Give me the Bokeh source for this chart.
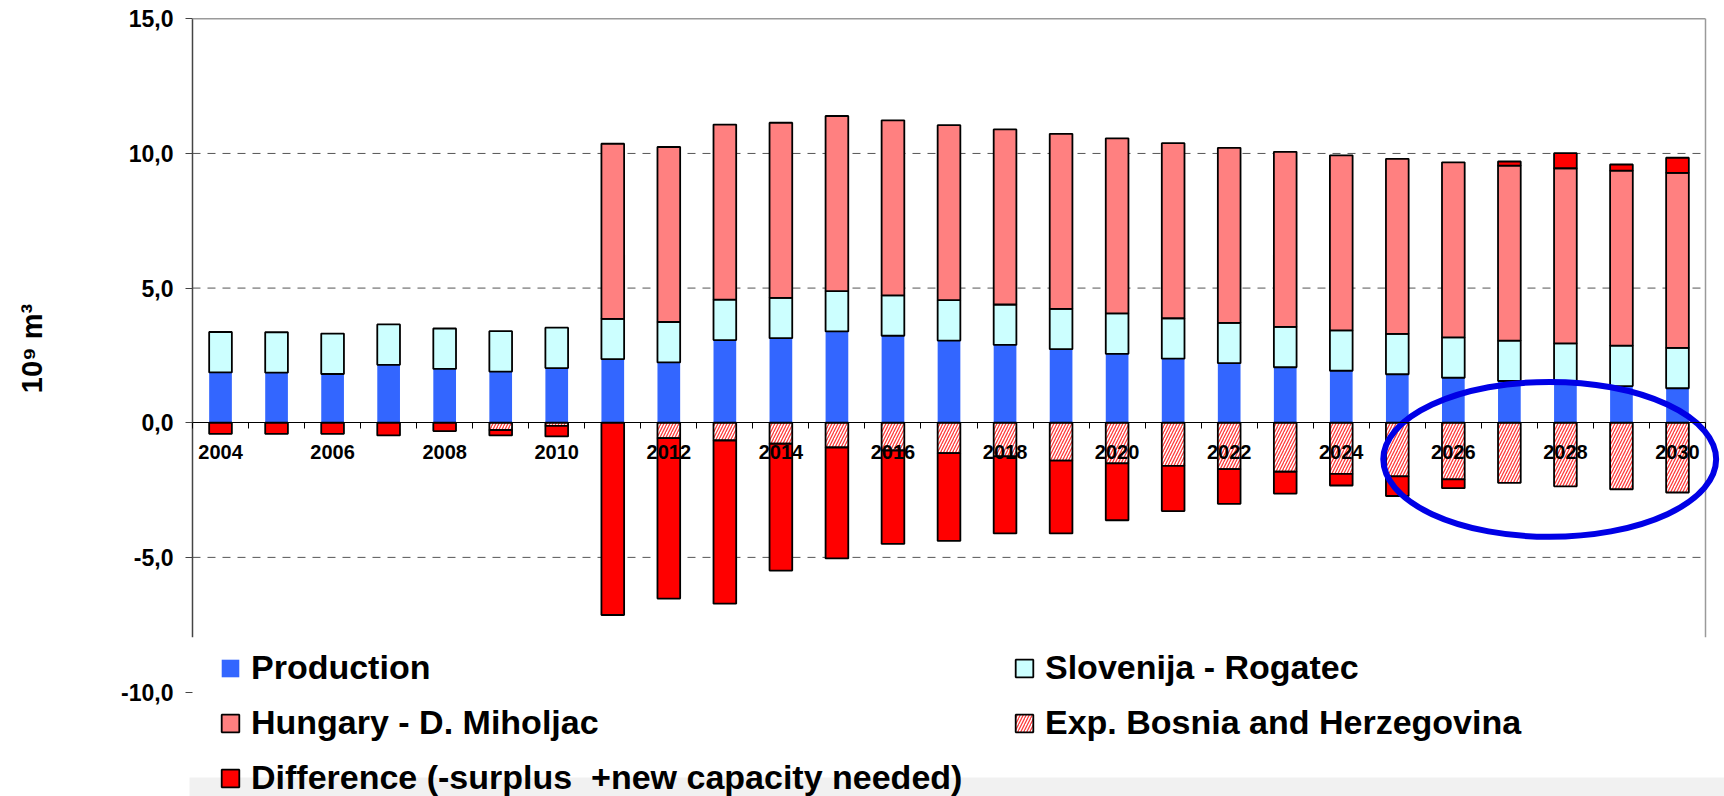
import numpy as np
from bokeh.plotting import figure
from bokeh.models import (Range1d, LinearAxis, FixedTicker, Legend, LegendItem, BoxAnnotation)
from bokeh.embed import file_html
from bokeh.resources import INLINE

# ---------------- data (10^9 m3) ----------------
YEARS = list(range(2004, 2031))
PRODUCTION = [1.87, 1.86, 1.81, 2.15, 2.00, 1.90, 2.03,
              2.36, 2.24, 3.07, 3.14, 3.39, 3.23, 3.05, 2.89, 2.73,
              2.56, 2.38, 2.21, 2.06, 1.93, 1.80, 1.67, 1.55, 1.45, 1.36, 1.28]
SLOVENIJA = [1.50, 1.50, 1.50, 1.50, 1.50, 1.50, 1.50,
             1.50, 1.50, 1.50, 1.50, 1.50, 1.50, 1.50, 1.50, 1.50,
             1.50, 1.50, 1.50, 1.50, 1.50, 1.50, 1.50, 1.50, 1.50, 1.50, 1.50]
HUNGARY = [0.0, 0.0, 0.0, 0.0, 0.0, 0.0, 0.0,
           6.50, 6.50, 6.50, 6.50, 6.50, 6.50, 6.50, 6.50, 6.50,
           6.50, 6.50, 6.50, 6.50, 6.50, 6.50, 6.50, 6.50, 6.50, 6.50, 6.50]
BOSNIA = [0.0, 0.0, 0.0, 0.0, 0.0, -0.27, -0.12,
          0.0, -0.57, -0.66, -0.78, -0.92, -1.03, -1.13, -1.25, -1.41,
          -1.51, -1.60, -1.72, -1.82, -1.90, -1.99, -2.10, -2.23, -2.36, -2.47, -2.59]
DIFFERENCE = [-0.41, -0.41, -0.41, -0.47, -0.31, -0.20, -0.39,
              -7.14, -5.96, -6.06, -4.71, -4.12, -3.47, -3.26, -2.86, -2.70,
              -2.11, -1.68, -1.29, -0.81, -0.43, -0.73, -0.33, 0.15, 0.56, 0.23, 0.56]
Y_TICKS = [-10, -5, 0, 5, 10, 15]
GRID_TICKS = [-5, 5, 10]
X_LABEL_YEARS = YEARS[::2]

Y_TITLE = "10⁹ m³"
LABELS = ["Production", "Slovenija - Rogatec", "Hungary - D. Miholjac",
          "Exp. Bosnia and Herzegovina", "Difference (-surplus  +new capacity needed)"]

# highlight ellipse (data units)
ELLIPSE_X, ELLIPSE_Y, ELLIPSE_W, ELLIPSE_H = 2027.72, -1.36, 5.94, 5.76
# plot-area border stops where the legend area begins
Y_TOP, BORDER_BOTTOM = 15, -7.97

# ---------------- stacks ----------------
x = np.array(YEARS, dtype=float)
prod = np.array(PRODUCTION)
slo = np.array(SLOVENIJA)
hun = np.array(HUNGARY)
bos = np.array(BOSNIA)
dif = np.array(DIFFERENCE)

s_top = prod + slo
h_top = s_top + hun
d_bottom = np.where(dif >= 0, h_top, bos + dif)
d_top = np.where(dif >= 0, h_top + dif, bos)

FONT = "Liberation Sans"
BAR_W = 0.405
X_LO, X_HI = YEARS[0] - 0.5, YEARS[-1] + 0.5
PAD_L, PAD_R = 0.0535, 0.339  # room left of the border; right room for the ellipse

p = figure(width=1724, height=796,
           x_range=Range1d(X_LO - PAD_L, X_HI + PAD_R),
           y_range=Range1d(-13.879, 15.085),
           x_axis_type=None, output_backend="svg", toolbar_location=None,
           min_border_left=189, min_border_right=0, min_border_top=16, min_border_bottom=0,
           outline_line_color=None,
           background_fill_color="white", border_fill_color="white")

# dashed gridlines, limited to the plot area
p.segment(x0=[X_LO] * len(GRID_TICKS), y0=GRID_TICKS, x1=[X_HI] * len(GRID_TICKS), y1=GRID_TICKS,
          line_color="#555555", line_width=1, line_dash="8 7")

# plot-area border (left axis line, top and right frame)
p.segment(x0=[X_LO], y0=[Y_TOP], x1=[X_LO], y1=[BORDER_BOTTOM], line_color="#444444", line_width=1.5)
p.segment(x0=[X_LO], y0=[Y_TOP], x1=[X_HI], y1=[Y_TOP], line_color="#9a9a9a", line_width=1.5)
p.segment(x0=[X_HI], y0=[Y_TOP], x1=[X_HI], y1=[BORDER_BOTTOM], line_color="#9a9a9a", line_width=1.5)

OUT = dict(line_color="black", line_width=1.8)
r_prod = p.vbar(x=x, bottom=0, top=prod, width=BAR_W, fill_color="#3366FF", line_color=None)
r_slo = p.vbar(x=x, bottom=prod, top=s_top, width=BAR_W, fill_color="#CCFFFF", **OUT)
hmask = hun > 0
r_hun = p.vbar(x=x[hmask], bottom=s_top[hmask], top=h_top[hmask], width=BAR_W,
               fill_color="#FF8080", **OUT)
bmask = bos < 0
r_bos = p.vbar(x=x[bmask], bottom=bos[bmask], top=0, width=BAR_W, fill_color="white",
               hatch_pattern="/", hatch_color="#ff3b3b", hatch_scale=6, hatch_weight=1.3, **OUT)
r_dif = p.vbar(x=x, bottom=d_bottom, top=d_top, width=BAR_W, fill_color="#FF0000", **OUT)

p.ellipse(x=[ELLIPSE_X], y=[ELLIPSE_Y], width=[ELLIPSE_W], height=[ELLIPSE_H],
          fill_color=None, line_color="#0000e6", line_width=6)

# y axis
yax = p.yaxis[0]
yax.ticker = FixedTicker(ticks=Y_TICKS)
yax.major_label_overrides = {t: f"{t:.1f}".replace(".", ",") for t in Y_TICKS}
yax.major_label_text_font = FONT
yax.major_label_text_font_style = "bold"
yax.major_label_text_font_size = "23px"
yax.major_label_text_color = "black"
yax.major_label_standoff = 12
yax.major_tick_out = 4
yax.major_tick_in = 3
yax.minor_tick_line_color = None
yax.major_tick_line_color = "#444444"
yax.axis_line_color = None
# leading em spaces lift the (centred) title to where the reference shows it
yax.axis_label = "\u2003\u2003\u2003\u2003" + Y_TITLE
yax.axis_label_text_font = FONT
yax.axis_label_text_font_style = "bold"
yax.axis_label_text_font_size = "29px"
yax.axis_label_text_color = "black"
yax.axis_label_standoff = 70

p.ygrid.visible = False

# x axis crossing at zero: tick marks between categories, labels every other year
bounds = [yv - 0.5 for yv in YEARS] + [X_HI]
tick_axis = LinearAxis(ticker=FixedTicker(ticks=bounds), fixed_location=0, bounds=(X_LO, X_HI),
                       axis_line_color="black", axis_line_width=1.2,
                       major_tick_line_color="black", major_tick_out=6, major_tick_in=0,
                       minor_tick_line_color=None, major_label_text_color=None)
label_axis = LinearAxis(ticker=FixedTicker(ticks=X_LABEL_YEARS), fixed_location=0,
                        axis_line_color=None, major_tick_line_color=None,
                        minor_tick_line_color=None, major_tick_out=0, major_tick_in=0,
                        major_label_standoff=22, major_label_text_font=FONT,
                        major_label_text_font_style="bold", major_label_text_font_size="20px",
                        major_label_text_color="black")
p.add_layout(tick_axis, "below")
p.add_layout(label_axis, "below")

# light shading at the very bottom of the page
p.add_layout(BoxAnnotation(top=777, bottom=796, left=0, right=1724,
                           top_units="canvas", bottom_units="canvas",
                           left_units="canvas", right_units="canvas",
                           fill_color="#f1f1f1", fill_alpha=1.0, line_color=None, level="annotation"))

common = dict(label_text_font=FONT, label_text_font_style="bold", label_text_font_size="34px",
              label_text_color="black", glyph_width=22, glyph_height=22, label_standoff=10,
              spacing=16, padding=0, margin=0, background_fill_alpha=0, border_line_color=None)
leg_a = Legend(items=[LegendItem(label=LABELS[0], renderers=[r_prod]),
                      LegendItem(label=LABELS[2], renderers=[r_hun]),
                      LegendItem(label=LABELS[4], renderers=[r_dif])],
               location=(30, -1), **common)
leg_b = Legend(items=[LegendItem(label=LABELS[1], renderers=[r_slo]),
                      LegendItem(label=LABELS[3], renderers=[r_bos])],
               location=(824, 54), **common)
p.add_layout(leg_a, "center")
p.add_layout(leg_b, "center")

open("out.html", "w").write(file_html(p, INLINE))
